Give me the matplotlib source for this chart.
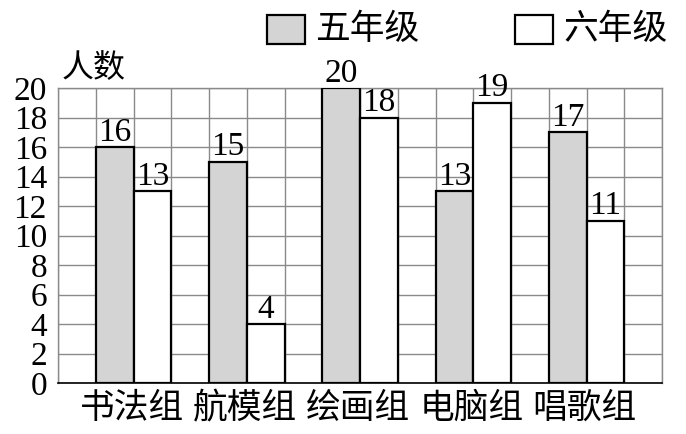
import numpy as np
import matplotlib.pyplot as plt
from matplotlib.patches import Rectangle

groups = ['书法组', '航模组', '绘画组', '电脑组', '唱歌组']
grade5 = [16, 15, 20, 13, 17]
grade6 = [13, 4, 18, 19, 11]
legend_names = ['五年级', '六年级']
y_ticks = list(range(0, 21, 2))

cjk = ['Noto Sans CJK SC', 'DejaVu Sans']
serif = 'Liberation Serif'
gray = '#d4d4d4'

fig = plt.figure(figsize=(6.86, 4.34), dpi=100)
ax = fig.add_axes([58/686, 1-383/434, 604/686, 295/434])

# grid of squares, each group takes 3 columns + 1 empty
centers = np.arange(len(groups)) * 3 + 2
w = 1.0
ax.bar(centers - w/2, grade5, width=w, color=gray, edgecolor='black', linewidth=1.6, zorder=3)
ax.bar(centers + w/2, grade6, width=w, color='white', edgecolor='black', linewidth=1.6, zorder=3)

for i in range(len(groups)):
    ax.text(centers[i] - w/2, grade5[i] - 0.05, str(grade5[i]), ha='center', va='bottom',
            fontsize=24, family=serif, zorder=4)
    ax.text(centers[i] + w/2, grade6[i] - 0.05, str(grade6[i]), ha='center', va='bottom',
            fontsize=24, family=serif, zorder=4)

ax.set_xlim(0, 16)
ax.set_ylim(0, 20)
ax.set_xticks(np.arange(0, 17), minor=False)
ax.set_yticks(y_ticks)
ax.set_yticklabels([str(t) for t in y_ticks], family=serif, fontsize=24)
ax.set_xticklabels([])
ax.tick_params(length=0, pad=8)
ax.tick_params(axis='x', pad=0)
ax.grid(True, color='#8a8a8a', linewidth=1.0, zorder=0)
for s in ax.spines.values():
    s.set_color('#8a8a8a')
    s.set_linewidth(1.0)
ax.spines['bottom'].set_color('black')
ax.spines['bottom'].set_linewidth(1.2)

for i, g in enumerate(groups):
    ax.text(centers[i] - 0.05, -0.55, g, ha='center', va='top', fontsize=25, family=cjk)

ax.text(0.1, 20.3, '人数', ha='left', va='bottom', fontsize=23, family=cjk)

# legend
fig.add_artist(Rectangle((267/686, 1-44/434), 38/686, 29/434, transform=fig.transFigure,
                         facecolor=gray, edgecolor='black', linewidth=1.6))
fig.text(315/686, 1-29/434, legend_names[0], ha='left', va='center', fontsize=25, family=cjk)
fig.add_artist(Rectangle((515/686, 1-44/434), 38/686, 29/434, transform=fig.transFigure,
                         facecolor='white', edgecolor='black', linewidth=1.6))
fig.text(563/686, 1-29/434, legend_names[1], ha='left', va='center', fontsize=25, family=cjk)

fig.savefig('out.png', dpi=100)
